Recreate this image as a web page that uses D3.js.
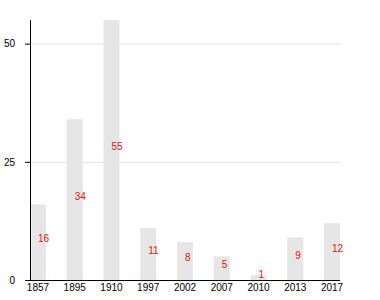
<!DOCTYPE html>
<html>
<head>
<meta charset="utf-8">
<script src="https://cdn.jsdelivr.net/npm/d3@7/dist/d3.min.js"></script>
<style>
  body { margin: 0; background: #fff; }
  svg { display: block; font-family: "Liberation Sans", Arial, sans-serif; }
</style>
</head>
<body>
<script>
const categories = ["1857", "1895", "1910", "1997", "2002", "2007", "2010", "2013", "2017"];
const values = [16, 34, 55, 11, 8, 5, 1, 9, 12];
const yTicks = [0, 25, 50];

const W = 380, H = 300;
const margin = { top: 20, right: 40, bottom: 20, left: 30 };
const w = W - margin.left - margin.right;
const h = H - margin.top - margin.bottom;

const svg = d3.select("body").append("svg").attr("width", W).attr("height", H);
const g = svg.append("g").attr("transform", `translate(${margin.left},${margin.top})`);

const x = d3.scaleBand().domain(categories).range([0, w]).paddingInner(0.565).paddingOuter(0);
const y = d3.scaleLinear().domain([0, 55]).range([h, 0]);

// gridlines
g.append("g").selectAll("line").data(yTicks.filter(t => t > 0)).join("line")
  .attr("x1", 0).attr("x2", w)
  .attr("y1", d => y(d) + 0.5).attr("y2", d => y(d) + 0.5)
  .attr("stroke", "#e3e3e3").attr("stroke-width", 1);

// bars
g.append("g").selectAll("rect").data(values).join("rect")
  .attr("x", (d, i) => x(categories[i]))
  .attr("y", d => y(d))
  .attr("width", x.bandwidth())
  .attr("height", d => h - y(d))
  .attr("fill", "#e6e6e6");

// value labels
g.append("g").selectAll("text").data(values).join("text")
  .attr("x", (d, i) => x(categories[i]) + x.bandwidth() / 2)
  .attr("y", d => y(d / 2))
  .attr("fill", "#f01010")
  .attr("font-size", 10)
  .text(d => d);

// axes
const yAxis = g.append("g")
  .call(d3.axisLeft(y).tickValues(yTicks).tickSize(5).tickPadding(10));
yAxis.selectAll("text").attr("font-size", 10).attr("font-family", null).attr("fill", "#000");
yAxis.select(".domain").attr("d", `M0.5,0V${h}`).attr("stroke", "#000");
yAxis.selectAll(".tick line").attr("stroke", "#000");
yAxis.attr("font-family", null);

const xAxis = g.append("g").attr("transform", `translate(0,${h})`)
  .call(d3.axisBottom(x).tickSize(0).tickPadding(4));
xAxis.attr("font-family", null);
xAxis.selectAll("text").attr("font-size", 10).attr("fill", "#000");
xAxis.select(".domain").attr("d", `M0,0.5H${w}`).attr("stroke", "#000");
</script>
</body>
</html>
